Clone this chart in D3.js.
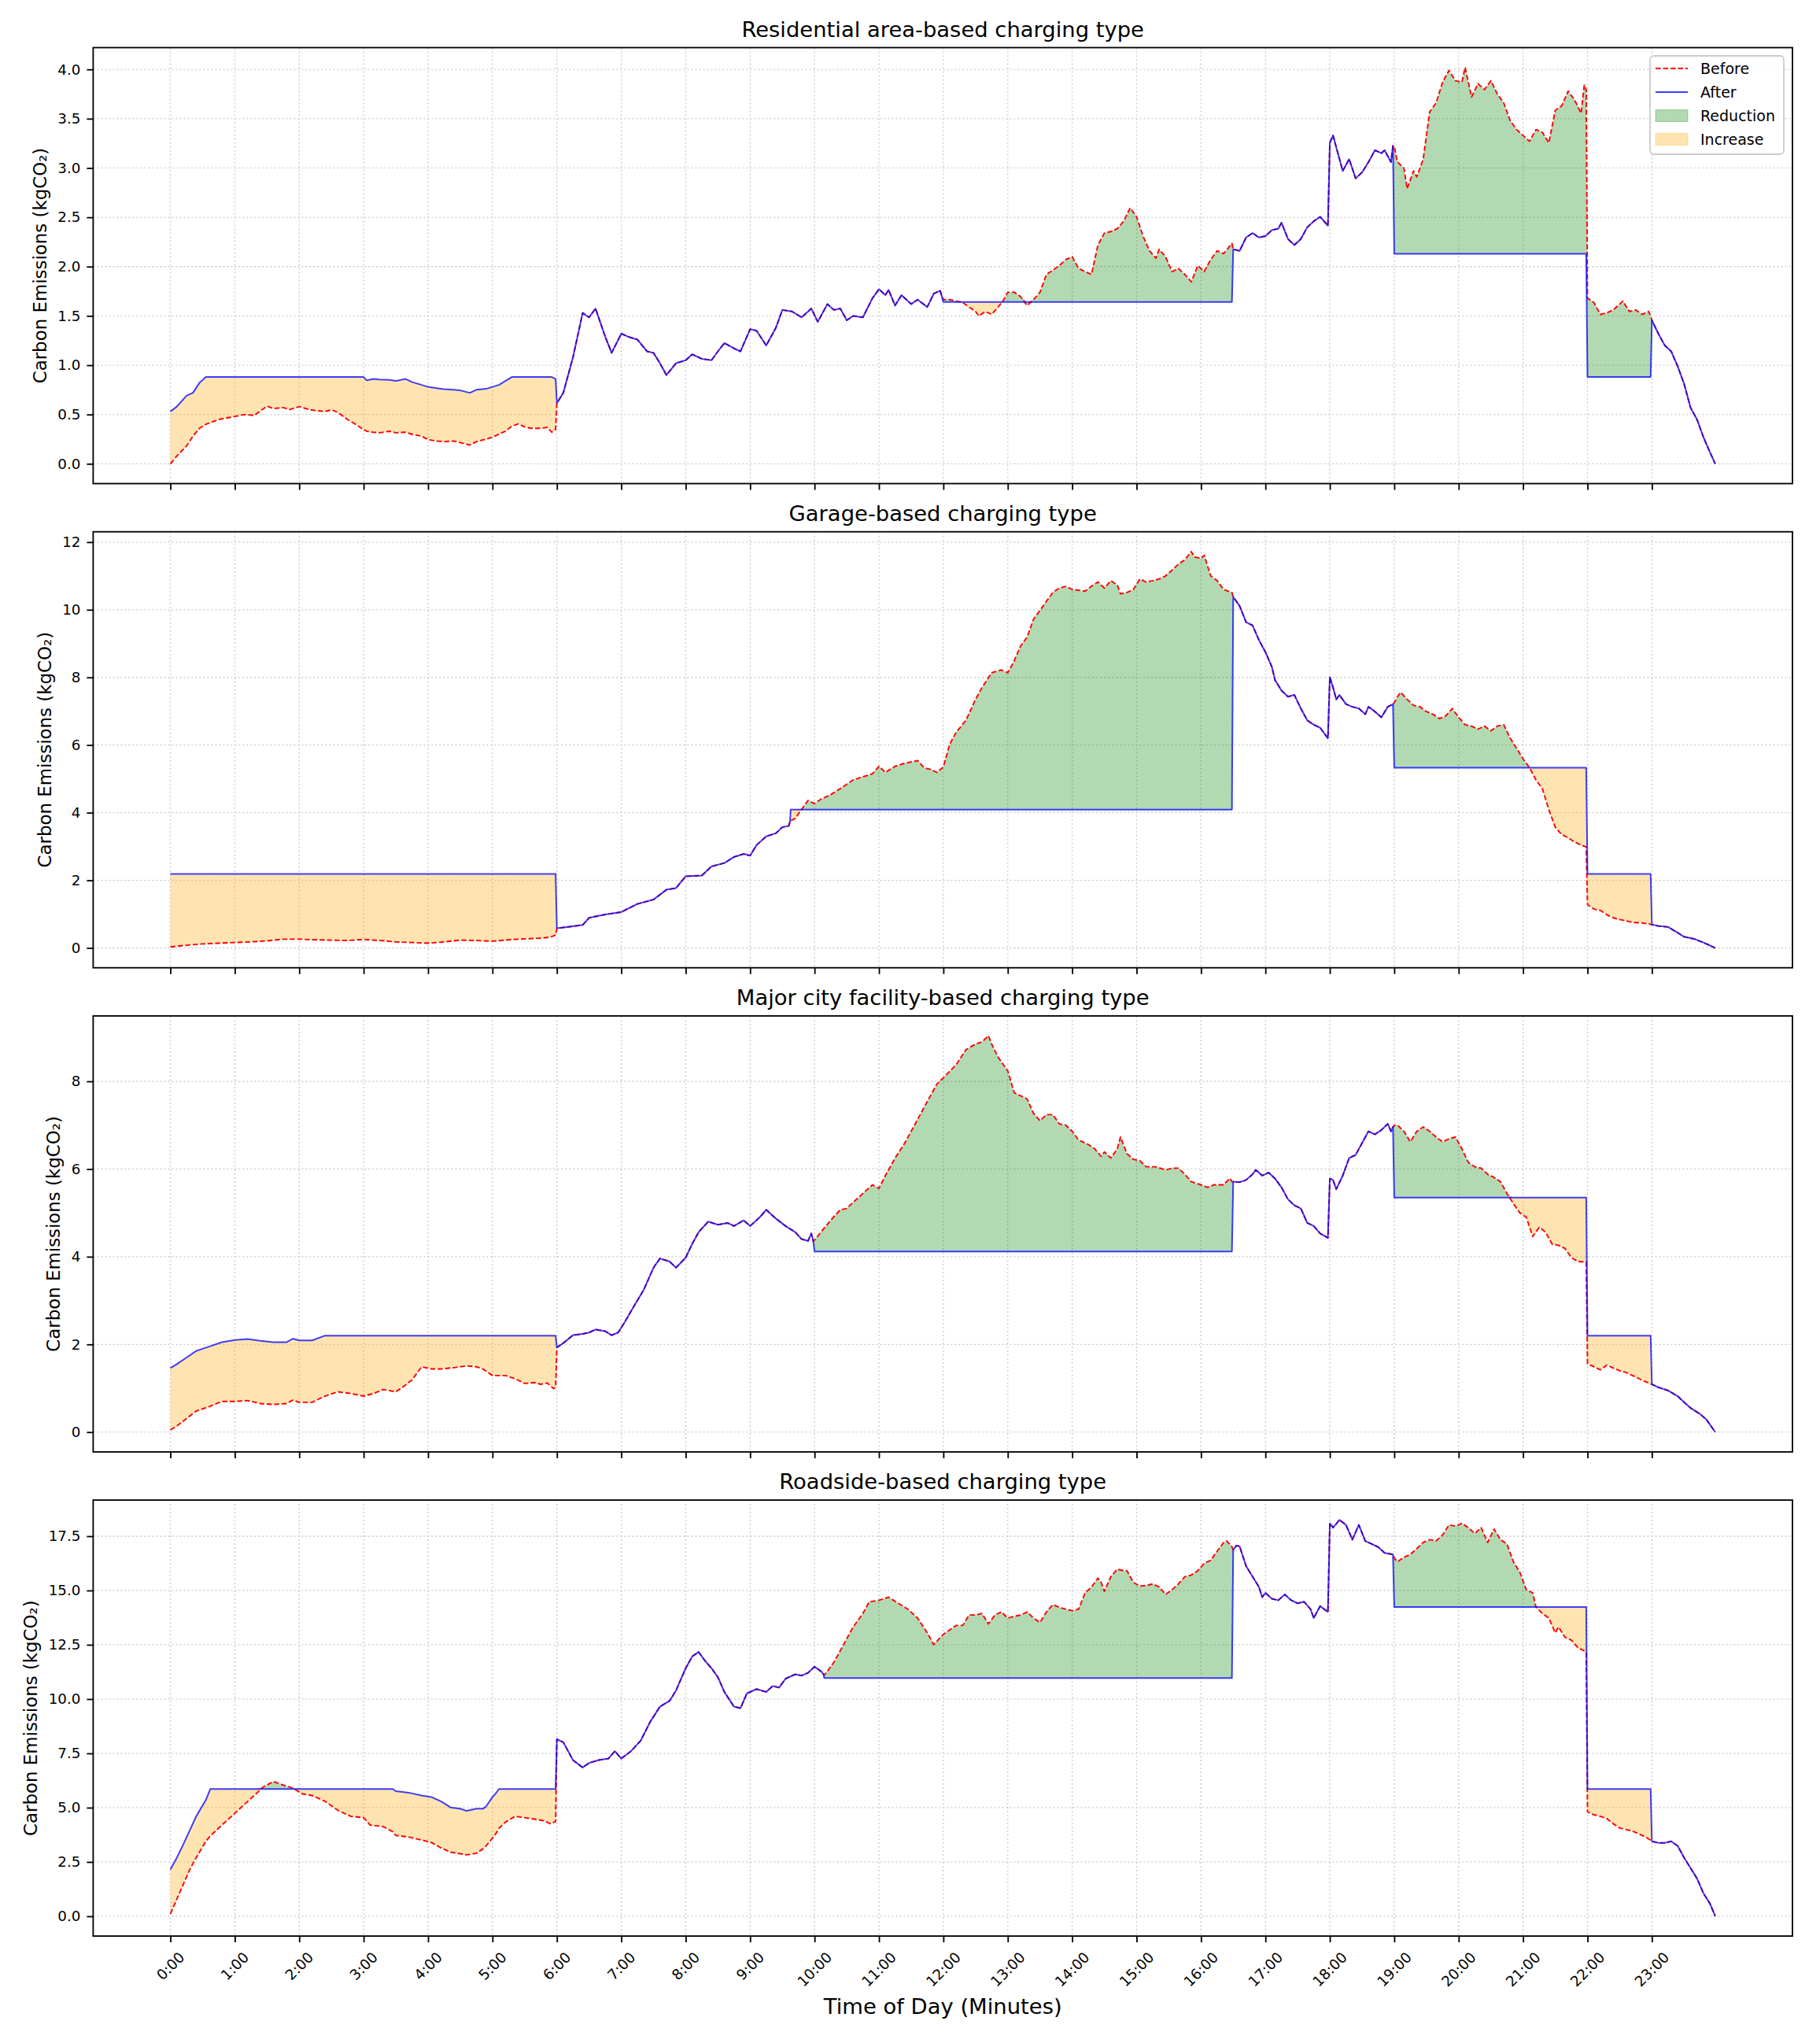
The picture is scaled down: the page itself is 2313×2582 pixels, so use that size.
<!DOCTYPE html>
<html><head><meta charset="utf-8">
<script src="https://cdn.jsdelivr.net/npm/d3@7"></script>
<style>body{margin:0;background:#fff} svg{display:block} text{font-family:"DejaVu Sans",sans-serif}</style>
</head><body><svg id="chart"></svg>
<script>
// ---------------- DATA (hour, before, after; after=null means identical to before) ----------------
const panelTitles = ["Residential area-based charging type","Garage-based charging type","Major city facility-based charging type","Roadside-based charging type"];
const xTickHours = [0,1,2,3,4,5,6,7,8,9,10,11,12,13,14,15,16,17,18,19,20,21,22,23];
const xTickLabels = ["0:00","1:00","2:00","3:00","4:00","5:00","6:00","7:00","8:00","9:00","10:00","11:00","12:00","13:00","14:00","15:00","16:00","17:00","18:00","19:00","20:00","21:00","22:00","23:00"];
const yTicksResidential = [0,0.5,1,1.5,2,2.5,3,3.5,4];
const yTicksGarage = [0,2,4,6,8,10,12];
const yTicksMajor = [0,2,4,6,8];
const yTicksRoadside = [0,2.5,5,7.5,10,12.5,15,17.5];
const yTickFormats = [".1f","d","d",".1f"];
const legendLabels = ["Before","After","Reduction","Increase"];

const residential = [
[0.00,0.00,0.53],[0.10,0.08,0.58],[0.25,0.18,0.69],[0.35,0.28,0.72],[0.45,0.36,0.82],[0.55,0.40,0.88],[0.75,0.45,0.88],[1.00,0.48,0.88],[1.15,0.50,0.88],[1.30,0.49,0.88],[1.50,0.585,0.88],[1.60,0.56,0.88],[1.75,0.57,0.88],[1.85,0.55,0.88],[2.00,0.58,0.88],[2.15,0.55,0.88],[2.25,0.54,0.88],[2.40,0.53,0.88],[2.50,0.55,0.88],[2.60,0.52,0.88],[2.75,0.45,0.88],[2.90,0.39,0.88],[3.00,0.345,0.88],[3.05,0.33,0.846],[3.15,0.32,0.86],[3.25,0.315,0.855],[3.40,0.33,0.85],[3.50,0.315,0.84],[3.65,0.32,0.86],[3.75,0.30,0.83],[3.90,0.28,0.80],[4.00,0.245,0.78],[4.15,0.23,0.765],[4.25,0.225,0.756],[4.40,0.23,0.75],[4.50,0.215,0.744],[4.65,0.19,0.72],[4.75,0.225,0.75],[4.90,0.25,0.76],[5.00,0.27,0.78],[5.10,0.30,0.80],[5.20,0.33,0.84],[5.30,0.38,0.88],[5.40,0.405,0.88],[5.50,0.375,0.88],[5.60,0.36,0.88],[5.75,0.36,0.88],[5.85,0.37,0.88],[5.92,0.32,0.88],[5.98,0.35,0.86],
[6.00,0.615,null],[6.10,0.72,null],[6.25,1.08,null],[6.40,1.53,null],[6.50,1.485,null],[6.60,1.575,null],[6.75,1.29,null],[6.85,1.125,null],[7.00,1.32,null],[7.10,1.29,null],[7.25,1.26,null],[7.40,1.14,null],[7.50,1.125,null],[7.60,1.02,null],[7.70,0.90,null],[7.85,1.02,null],[8.00,1.05,null],[8.10,1.11,null],[8.25,1.065,null],[8.40,1.05,null],[8.50,1.14,null],[8.60,1.225,null],[8.75,1.17,null],[8.85,1.14,null],[9.00,1.365,null],[9.10,1.35,null],[9.25,1.20,null],[9.40,1.38,null],[9.50,1.56,null],[9.65,1.545,null],[9.80,1.485,null],[9.95,1.575,null],[10.05,1.44,null],[10.20,1.62,null],[10.30,1.56,null],[10.40,1.575,null],[10.50,1.455,null],[10.60,1.50,null],[10.75,1.485,null],[10.90,1.68,null],[11.00,1.77,null],[11.10,1.71,null],[11.15,1.764,null],[11.25,1.605,null],[11.35,1.71,null],[11.50,1.62,null],[11.60,1.665,null],[11.75,1.59,null],[11.85,1.725,null],[11.95,1.755,null],
[12.00,1.665,1.64],[12.10,1.665,1.64],[12.20,1.65,1.64],[12.30,1.635,1.64],[12.40,1.59,1.64],[12.50,1.545,1.64],[12.55,1.50,1.64],[12.65,1.545,1.64],[12.75,1.515,1.64],[12.85,1.59,1.64],[12.92,1.645,1.64],[13.00,1.74,1.64],[13.10,1.74,1.64],[13.20,1.695,1.64],[13.30,1.605,1.64],[13.40,1.665,1.64],[13.50,1.74,1.64],[13.60,1.92,1.64],[13.70,1.965,1.64],[13.80,2.01,1.64],[13.90,2.07,1.64],[14.00,2.10,1.64],[14.10,1.98,1.64],[14.20,1.95,1.64],[14.30,1.92,1.64],[14.40,2.22,1.64],[14.50,2.34,1.64],[14.60,2.355,1.64],[14.70,2.385,1.64],[14.80,2.46,1.64],[14.90,2.595,1.64],[15.00,2.505,1.64],[15.10,2.31,1.64],[15.20,2.16,1.64],[15.30,2.085,1.64],[15.35,2.175,1.64],[15.45,2.10,1.64],[15.55,1.95,1.64],[15.65,1.98,1.64],[15.75,1.92,1.64],[15.85,1.845,1.64],[15.95,2.01,1.64],[16.05,1.95,1.64],[16.15,2.07,1.64],[16.25,2.16,1.64],[16.35,2.13,1.64],[16.48,2.235,1.64],
[16.50,2.175,null],[16.60,2.16,null],[16.70,2.295,null],[16.80,2.34,null],[16.90,2.295,null],[17.00,2.31,null],[17.10,2.37,null],[17.20,2.385,null],[17.25,2.445,null],[17.35,2.28,null],[17.45,2.22,null],[17.55,2.28,null],[17.65,2.40,null],[17.75,2.46,null],[17.85,2.505,null],[17.97,2.415,null],[18.00,3.255,null],[18.05,3.33,null],[18.10,3.21,null],[18.20,2.97,null],[18.30,3.09,null],[18.40,2.895,null],[18.50,2.955,null],[18.60,3.06,null],[18.70,3.18,null],[18.80,3.15,null],[18.85,3.18,null],[18.95,3.06,null],[18.98,3.225,null],
[19.00,3.22,2.13],[19.05,3.06,2.13],[19.15,3.00,2.13],[19.20,2.79,2.13],[19.30,2.97,2.13],[19.35,2.91,2.13],[19.45,3.09,2.13],[19.55,3.57,2.13],[19.65,3.66,2.13],[19.75,3.87,2.13],[19.85,3.99,2.13],[19.95,3.885,2.13],[20.05,3.87,2.13],[20.10,4.02,2.13],[20.20,3.72,2.13],[20.30,3.855,2.13],[20.40,3.795,2.13],[20.50,3.885,2.13],[20.60,3.75,2.13],[20.70,3.66,2.13],[20.80,3.48,2.13],[20.90,3.39,2.13],[21.00,3.33,2.13],[21.10,3.27,2.13],[21.20,3.39,2.13],[21.30,3.36,2.13],[21.40,3.255,2.13],[21.50,3.585,2.13],[21.60,3.63,2.13],[21.70,3.78,2.13],[21.80,3.69,2.13],[21.90,3.555,2.13],[21.95,3.84,2.13],[21.98,3.795,2.13],
[22.00,1.68,0.88],[22.10,1.635,0.88],[22.20,1.515,0.88],[22.30,1.53,0.88],[22.40,1.56,0.88],[22.50,1.62,0.88],[22.55,1.65,0.88],[22.65,1.545,0.88],[22.75,1.56,0.88],[22.85,1.515,0.88],[22.95,1.545,0.88],[22.98,1.50,0.88],
[23.00,1.455,null],[23.10,1.32,null],[23.20,1.20,null],[23.30,1.14,null],[23.40,0.99,null],[23.50,0.81,null],[23.60,0.57,null],[23.70,0.45,null],[23.80,0.27,null],[23.90,0.12,null],[23.983,0.0,null]
];

const garage = [
[0.00,0.03,2.19],[0.25,0.08,2.19],[0.50,0.12,2.19],[0.75,0.14,2.19],[1.00,0.16,2.19],[1.25,0.18,2.19],[1.50,0.21,2.19],[1.75,0.26,2.19],[2.00,0.26,2.19],[2.25,0.24,2.19],[2.50,0.23,2.19],[2.75,0.22,2.19],[3.00,0.25,2.19],[3.25,0.22,2.19],[3.50,0.18,2.19],[3.75,0.16,2.19],[4.00,0.14,2.19],[4.25,0.18,2.19],[4.50,0.23,2.19],[4.75,0.22,2.19],[5.00,0.20,2.19],[5.25,0.24,2.19],[5.50,0.27,2.19],[5.75,0.29,2.19],[5.90,0.32,2.19],[5.98,0.38,2.19],
[6.00,0.58,null],[6.25,0.64,null],[6.40,0.68,null],[6.50,0.89,null],[6.75,0.99,null],[7.00,1.06,null],[7.25,1.30,null],[7.50,1.43,null],[7.70,1.72,null],[7.85,1.77,null],[8.00,2.12,null],[8.25,2.14,null],[8.40,2.41,null],[8.60,2.51,null],[8.75,2.69,null],[8.90,2.78,null],[9.00,2.73,null],[9.10,3.04,null],[9.25,3.30,null],[9.40,3.39,null],[9.50,3.57,null],[9.60,3.61,null],[9.62,3.74,null],
[9.63,3.76,4.09],[9.70,3.83,4.09],[9.80,4.10,4.09],[9.90,4.36,4.09],[10.00,4.27,4.09],[10.10,4.40,4.09],[10.25,4.53,4.09],[10.40,4.71,4.09],[10.60,4.97,4.09],[10.75,5.06,4.09],[10.90,5.15,4.09],[11.00,5.37,4.09],[11.10,5.19,4.09],[11.25,5.37,4.09],[11.40,5.46,4.09],[11.60,5.54,4.09],[11.70,5.33,4.09],[11.80,5.28,4.09],[11.90,5.19,4.09],[12.00,5.35,4.09],[12.10,6.03,4.09],[12.20,6.38,4.09],[12.35,6.73,4.09],[12.50,7.35,4.09],[12.60,7.70,4.09],[12.75,8.14,4.09],[12.90,8.22,4.09],[13.00,8.14,4.09],[13.10,8.49,4.09],[13.20,8.93,4.09],[13.30,9.19,4.09],[13.40,9.72,4.09],[13.50,9.98,4.09],[13.60,10.25,4.09],[13.70,10.51,4.09],[13.80,10.64,4.09],[13.90,10.69,4.09],[14.00,10.60,4.09],[14.20,10.55,4.09],[14.30,10.70,4.09],[14.40,10.82,4.09],[14.50,10.64,4.09],[14.60,10.86,4.09],[14.70,10.73,4.09],[14.75,10.47,4.09],[14.85,10.51,4.09],[14.95,10.60,4.09],[15.05,10.91,4.09],[15.15,10.82,4.09],[15.25,10.86,4.09],[15.35,10.91,4.09],[15.45,11.00,4.09],[15.55,11.17,4.09],[15.65,11.35,4.09],[15.75,11.48,4.09],[15.85,11.72,4.09],[15.90,11.56,4.09],[16.00,11.52,4.09],[16.05,11.61,4.09],[16.15,11.00,4.09],[16.25,10.86,4.09],[16.35,10.60,4.09],[16.48,10.51,4.09],
[16.50,10.38,null],[16.60,10.11,null],[16.70,9.63,null],[16.80,9.54,null],[16.90,9.10,null],[17.00,8.75,null],[17.10,8.31,null],[17.15,7.92,null],[17.25,7.61,null],[17.35,7.43,null],[17.45,7.48,null],[17.55,7.08,null],[17.65,6.73,null],[17.75,6.60,null],[17.85,6.51,null],[17.97,6.20,null],[18.00,8.01,null],[18.05,7.70,null],[18.10,7.35,null],[18.15,7.48,null],[18.25,7.21,null],[18.35,7.13,null],[18.45,7.08,null],[18.55,6.91,null],[18.60,7.13,null],[18.70,6.99,null],[18.80,6.82,null],[18.90,7.13,null],[18.98,7.21,null],
[19.00,7.25,5.33],[19.05,7.43,5.33],[19.10,7.56,5.33],[19.20,7.35,5.33],[19.30,7.17,5.33],[19.40,7.13,5.33],[19.50,6.99,5.33],[19.60,6.91,5.33],[19.70,6.78,5.33],[19.80,6.86,5.33],[19.90,7.08,5.33],[20.00,6.82,5.33],[20.10,6.60,5.33],[20.20,6.56,5.33],[20.30,6.47,5.33],[20.40,6.56,5.33],[20.50,6.42,5.33],[20.60,6.56,5.33],[20.70,6.60,5.33],[20.80,6.20,5.33],[20.90,5.90,5.33],[21.00,5.59,5.33],[21.10,5.33,5.33],[21.20,4.97,5.33],[21.30,4.71,5.33],[21.40,4.09,5.33],[21.50,3.57,5.33],[21.60,3.35,5.33],[21.70,3.26,5.33],[21.80,3.13,5.33],[21.90,3.04,5.33],[21.98,2.99,5.33],
[22.00,1.28,2.19],[22.10,1.15,2.19],[22.20,1.11,2.19],[22.30,0.98,2.19],[22.40,0.89,2.19],[22.50,0.84,2.19],[22.60,0.80,2.19],[22.70,0.76,2.19],[22.85,0.74,2.19],[22.98,0.70,2.19],
[23.00,0.69,null],[23.10,0.65,null],[23.25,0.62,null],[23.40,0.45,null],[23.50,0.33,null],[23.65,0.27,null],[23.80,0.16,null],[23.983,0.0,null]
];

const major = [
[0.00,0.05,1.46],[0.10,0.14,1.55],[0.25,0.31,1.70],[0.40,0.48,1.85],[0.60,0.58,1.95],[0.80,0.70,2.05],[1.00,0.70,2.10],[1.20,0.72,2.12],[1.40,0.65,2.08],[1.60,0.63,2.05],[1.80,0.65,2.05],[1.90,0.73,2.13],[2.00,0.68,2.09],[2.20,0.68,2.09],[2.40,0.82,2.20],[2.60,0.92,2.20],[2.80,0.88,2.20],[3.00,0.82,2.20],[3.15,0.88,2.20],[3.30,0.97,2.20],[3.50,0.92,2.20],[3.60,1.02,2.20],[3.75,1.19,2.20],[3.90,1.49,2.20],[4.05,1.44,2.20],[4.20,1.44,2.20],[4.40,1.47,2.20],[4.60,1.51,2.20],[4.75,1.49,2.20],[4.85,1.44,2.20],[5.00,1.29,2.20],[5.20,1.29,2.20],[5.35,1.22,2.20],[5.50,1.11,2.20],[5.65,1.13,2.20],[5.75,1.09,2.20],[5.85,1.12,2.20],[5.95,0.99,2.20],[5.98,1.02,2.20],
[6.00,1.93,null],[6.10,2.03,null],[6.25,2.21,null],[6.40,2.24,null],[6.50,2.27,null],[6.60,2.34,null],[6.75,2.30,null],[6.85,2.21,null],[6.95,2.27,null],[7.05,2.50,null],[7.20,2.88,null],[7.35,3.25,null],[7.50,3.75,null],[7.60,3.96,null],[7.75,3.89,null],[7.85,3.75,null],[8.00,3.98,null],[8.10,4.29,null],[8.20,4.56,null],[8.35,4.80,null],[8.50,4.73,null],[8.65,4.77,null],[8.75,4.70,null],[8.90,4.83,null],[9.00,4.70,null],[9.15,4.90,null],[9.25,5.07,null],[9.40,4.87,null],[9.55,4.70,null],[9.70,4.56,null],[9.80,4.40,null],[9.90,4.36,null],[9.95,4.53,null],[9.98,4.36,null],
[10.00,4.38,4.12],[10.10,4.56,4.12],[10.25,4.83,4.12],[10.40,5.07,4.12],[10.50,5.10,4.12],[10.60,5.24,4.12],[10.75,5.44,4.12],[10.90,5.64,4.12],[11.00,5.56,4.12],[11.10,5.85,4.12],[11.25,6.25,4.12],[11.40,6.59,4.12],[11.60,7.13,4.12],[11.75,7.54,4.12],[11.90,7.94,4.12],[12.00,8.08,4.12],[12.20,8.38,4.12],[12.35,8.72,4.12],[12.50,8.85,4.12],[12.60,8.90,4.12],[12.70,9.04,4.12],[12.75,8.85,4.12],[12.85,8.55,4.12],[13.00,8.24,4.12],[13.10,7.74,4.12],[13.20,7.67,4.12],[13.30,7.60,4.12],[13.40,7.27,4.12],[13.50,7.10,4.12],[13.60,7.24,4.12],[13.70,7.24,4.12],[13.80,7.03,4.12],[13.90,7.00,4.12],[14.00,6.86,4.12],[14.10,6.66,4.12],[14.25,6.56,4.12],[14.35,6.46,4.12],[14.45,6.29,4.12],[14.50,6.39,4.12],[14.60,6.25,4.12],[14.70,6.46,4.12],[14.75,6.73,4.12],[14.85,6.35,4.12],[14.95,6.22,4.12],[15.05,6.19,4.12],[15.15,6.05,4.12],[15.30,6.05,4.12],[15.45,5.98,4.12],[15.55,6.02,4.12],[15.65,6.02,4.12],[15.75,5.88,4.12],[15.85,5.71,4.12],[16.00,5.64,4.12],[16.10,5.58,4.12],[16.20,5.64,4.12],[16.35,5.64,4.12],[16.45,5.79,4.12],[16.48,5.71,4.12],
[16.50,5.71,null],[16.60,5.70,null],[16.70,5.75,null],[16.80,5.88,null],[16.85,5.98,null],[16.95,5.85,null],[17.05,5.92,null],[17.15,5.78,null],[17.25,5.58,null],[17.35,5.31,null],[17.45,5.17,null],[17.55,5.10,null],[17.65,4.77,null],[17.75,4.70,null],[17.85,4.53,null],[17.97,4.43,null],[18.00,5.78,null],[18.05,5.75,null],[18.10,5.54,null],[18.20,5.85,null],[18.30,6.25,null],[18.40,6.32,null],[18.50,6.59,null],[18.60,6.86,null],[18.70,6.79,null],[18.80,6.89,null],[18.90,7.03,null],[18.95,6.86,null],[18.98,6.96,null],
[19.00,7.00,5.35],[19.05,7.00,5.35],[19.15,6.86,5.35],[19.25,6.62,5.35],[19.35,6.86,5.35],[19.45,6.96,5.35],[19.55,6.86,5.35],[19.65,6.73,5.35],[19.75,6.62,5.35],[19.85,6.69,5.35],[19.95,6.73,5.35],[20.05,6.46,5.35],[20.15,6.15,5.35],[20.25,6.05,5.35],[20.35,6.02,5.35],[20.45,5.88,5.35],[20.55,5.81,5.35],[20.65,5.71,5.35],[20.75,5.44,5.35],[20.85,5.21,5.35],[20.95,5.00,5.35],[21.05,4.90,5.35],[21.15,4.46,5.35],[21.25,4.67,5.35],[21.35,4.56,5.35],[21.45,4.29,5.35],[21.55,4.26,5.35],[21.65,4.19,5.35],[21.75,3.98,5.35],[21.85,3.89,5.35],[21.98,3.88,5.35],
[22.00,1.56,2.20],[22.10,1.49,2.20],[22.20,1.42,2.20],[22.30,1.53,2.20],[22.40,1.46,2.20],[22.50,1.40,2.20],[22.60,1.36,2.20],[22.70,1.29,2.20],[22.80,1.22,2.20],[22.90,1.15,2.20],[22.98,1.10,2.20],
[23.00,1.09,null],[23.10,1.02,null],[23.25,0.95,null],[23.40,0.82,null],[23.50,0.68,null],[23.60,0.55,null],[23.75,0.41,null],[23.85,0.28,null],[23.983,0.0,null]
];

const roadside = [
[0.00,0.11,2.15],[0.10,0.79,2.70],[0.20,1.47,3.31],[0.30,2.15,3.95],[0.40,2.70,4.60],[0.55,3.45,5.35],[0.62,3.70,5.86],[0.80,4.20,5.86],[1.00,4.74,5.86],[1.15,5.15,5.86],[1.30,5.56,5.86],[1.45,5.97,5.86],[1.60,6.20,5.86],[1.75,6.04,5.86],[1.90,5.90,5.86],[2.05,5.63,5.86],[2.20,5.56,5.86],[2.40,5.29,5.86],[2.60,4.88,5.86],[2.80,4.60,5.86],[3.00,4.54,5.86],[3.10,4.20,5.86],[3.30,4.13,5.86],[3.45,3.90,5.86],[3.50,3.72,5.76],[3.70,3.65,5.69],[3.90,3.51,5.56],[4.05,3.40,5.49],[4.20,3.15,5.29],[4.35,2.95,5.01],[4.50,2.88,4.95],[4.60,2.83,4.85],[4.75,2.90,4.95],[4.85,3.10,4.95],[4.90,3.24,5.05],[5.00,3.60,5.49],[5.05,3.79,5.65],[5.10,4.05,5.86],[5.20,4.33,5.86],[5.35,4.60,5.86],[5.50,4.54,5.86],[5.65,4.47,5.86],[5.80,4.40,5.86],[5.90,4.26,5.86],[5.98,4.36,5.86],
[6.00,8.15,null],[6.10,8.01,null],[6.25,7.19,null],[6.40,6.85,null],[6.50,7.06,null],[6.65,7.19,null],[6.80,7.26,null],[6.90,7.60,null],[7.00,7.26,null],[7.15,7.60,null],[7.30,8.08,null],[7.45,8.96,null],[7.60,9.65,null],[7.75,9.92,null],[7.85,10.40,null],[8.00,11.42,null],[8.10,11.96,null],[8.20,12.17,null],[8.30,11.76,null],[8.40,11.42,null],[8.50,11.01,null],[8.60,10.33,null],[8.75,9.65,null],[8.85,9.58,null],[8.95,10.26,null],[9.10,10.46,null],[9.25,10.33,null],[9.35,10.60,null],[9.45,10.53,null],[9.55,10.94,null],[9.70,11.14,null],[9.80,11.08,null],[9.90,11.21,null],[10.00,11.49,null],[10.10,11.28,null],[10.14,11.14,null],
[10.15,11.10,10.97],[10.20,11.28,10.97],[10.30,11.69,10.97],[10.40,12.23,10.97],[10.50,12.78,10.97],[10.60,13.32,10.97],[10.75,13.94,10.97],[10.85,14.48,10.97],[11.00,14.55,10.97],[11.15,14.69,10.97],[11.30,14.41,10.97],[11.45,14.14,10.97],[11.60,13.73,10.97],[11.75,13.05,10.97],[11.85,12.51,10.97],[12.00,12.98,10.97],[12.10,13.19,10.97],[12.20,13.39,10.97],[12.30,13.39,10.97],[12.40,13.87,10.97],[12.50,13.87,10.97],[12.60,13.94,10.97],[12.70,13.46,10.97],[12.80,13.87,10.97],[12.90,14.01,10.97],[13.00,13.73,10.97],[13.10,13.81,10.97],[13.20,13.87,10.97],[13.30,14.01,10.97],[13.40,13.73,10.97],[13.50,13.53,10.97],[13.60,14.01,10.97],[13.70,14.35,10.97],[13.80,14.22,10.97],[13.90,14.14,10.97],[14.00,14.07,10.97],[14.10,14.14,10.97],[14.20,14.89,10.97],[14.30,15.16,10.97],[14.40,15.57,10.97],[14.45,15.37,10.97],[14.50,14.96,10.97],[14.60,15.64,10.97],[14.70,15.98,10.97],[14.80,15.91,10.97],[14.85,15.91,10.97],[14.95,15.37,10.97],[15.05,15.20,10.97],[15.15,15.23,10.97],[15.25,15.30,10.97],[15.35,15.16,10.97],[15.45,14.82,10.97],[15.55,15.03,10.97],[15.65,15.30,10.97],[15.75,15.64,10.97],[15.85,15.71,10.97],[15.95,15.91,10.97],[16.05,16.25,10.97],[16.15,16.39,10.97],[16.25,16.80,10.97],[16.35,17.21,10.97],[16.40,17.28,10.97],[16.48,17.01,10.97],
[16.50,16.87,null],[16.55,17.07,null],[16.60,17.03,null],[16.70,16.12,null],[16.80,15.64,null],[16.90,15.16,null],[16.95,14.69,null],[17.00,14.89,null],[17.10,14.62,null],[17.20,14.55,null],[17.30,14.82,null],[17.40,14.55,null],[17.50,14.41,null],[17.60,14.48,null],[17.70,14.14,null],[17.75,13.73,null],[17.85,14.28,null],[17.97,14.01,null],[18.00,18.09,null],[18.05,17.89,null],[18.15,18.25,null],[18.25,18.02,null],[18.35,17.34,null],[18.45,18.02,null],[18.55,17.28,null],[18.65,17.14,null],[18.75,17.00,null],[18.85,16.73,null],[18.98,16.66,null],
[19.00,16.50,14.24],[19.05,16.32,14.24],[19.15,16.53,14.24],[19.25,16.66,14.24],[19.35,16.93,14.24],[19.45,17.21,14.24],[19.55,17.34,14.24],[19.65,17.28,14.24],[19.75,17.55,14.24],[19.85,18.02,14.24],[19.95,17.96,14.24],[20.05,18.09,14.24],[20.15,17.89,14.24],[20.25,17.62,14.24],[20.35,17.89,14.24],[20.45,17.21,14.24],[20.55,17.83,14.24],[20.65,17.34,14.24],[20.75,17.14,14.24],[20.85,16.32,14.24],[20.95,15.84,14.24],[21.05,15.03,14.24],[21.15,14.89,14.24],[21.20,14.24,14.24],[21.30,13.94,14.24],[21.40,13.73,14.24],[21.50,13.05,14.24],[21.55,13.32,14.24],[21.65,12.85,14.24],[21.75,12.71,14.24],[21.85,12.37,14.24],[21.98,12.17,14.24],
[22.00,4.81,5.86],[22.10,4.67,5.86],[22.20,4.60,5.86],[22.30,4.50,5.86],[22.40,4.26,5.86],[22.50,4.06,5.86],[22.60,3.99,5.86],[22.70,3.92,5.86],[22.80,3.79,5.86],[22.90,3.65,5.86],[22.98,3.50,5.86],
[23.00,3.45,null],[23.10,3.38,null],[23.20,3.38,null],[23.30,3.45,null],[23.40,3.24,null],[23.50,2.70,null],[23.60,2.22,null],[23.70,1.74,null],[23.80,1.06,null],[23.90,0.59,null],[23.983,0.0,null]
];

// ---------------- RENDER ----------------
const panels = [residential, garage, major, roadside];
const yTicksAll = [yTicksResidential, yTicksGarage, yTicksMajor, yTicksRoadside];

const W = 2313, H = 2582;
const L = 118.4, R = 2278, T0 = 60.5, PH = 554, STEP = 615.2;
const FS_TICK = 18.3, FS_YLABEL = 22.9, FS_TITLE = 27.4, FS_XLABEL = 27.4, FS_LEG = 19;
const TICK_LEN = 8, TICK_PAD = 8, SPINE_W = 1.83;
const COL_BEFORE = "#ff0000", COL_AFTER = "#0000ff";
const FILL_RED = "green", FILL_INC = "orange", FILL_OP = 0.3;

const svg = d3.select("#chart").attr("width", W).attr("height", H);
svg.append("rect").attr("width", W).attr("height", H).attr("fill", "#fff");
const defs = svg.append("defs");

panels.forEach((raw, i) => {
  const rows = raw.map(r => ({ t: r[0], b: r[1], a: r[2] == null ? r[1] : r[2] }));
  const top = T0 + i * STEP, bottom = top + PH;

  const tExt = d3.extent(rows, d => d.t);
  const tPad = 0.05 * (tExt[1] - tExt[0]);
  const x = d3.scaleLinear().domain([tExt[0] - tPad, tExt[1] + tPad]).range([L, R]);
  const yLo = d3.min(rows, d => Math.min(d.a, d.b));
  const yHi = d3.max(rows, d => Math.max(d.a, d.b));
  const yPad = 0.05 * (yHi - yLo);
  const y = d3.scaleLinear().domain([yLo - yPad, yHi + yPad]).range([bottom, top]);

  const cid = "clip" + i;
  defs.append("clipPath").attr("id", cid).append("rect")
    .attr("x", L).attr("y", top).attr("width", R - L).attr("height", PH);

  const g = svg.append("g");

  // grid
  const grid = g.append("g").attr("clip-path", `url(#${cid})`)
    .attr("stroke", "#b8b8b8").attr("stroke-width", 1.3).attr("stroke-dasharray", "2,3").attr("opacity", 0.75);
  grid.selectAll("line.v").data(xTickHours).join("line")
    .attr("x1", d => x(d)).attr("x2", d => x(d)).attr("y1", top).attr("y2", bottom);
  grid.selectAll("line.h").data(yTicksAll[i]).join("line")
    .attr("x1", L).attr("x2", R).attr("y1", d => y(d)).attr("y2", d => y(d));

  const plot = g.append("g").attr("clip-path", `url(#${cid})`);
  // Reduction (before > after)
  plot.append("path").datum(rows)
    .attr("d", d3.area().x(d => x(d.t)).y0(d => y(d.a)).y1(d => y(Math.max(d.a, d.b))))
    .attr("fill", FILL_RED).attr("fill-opacity", FILL_OP);
  // Increase (after > before)
  plot.append("path").datum(rows)
    .attr("d", d3.area().x(d => x(d.t)).y0(d => y(d.b)).y1(d => y(Math.max(d.a, d.b))))
    .attr("fill", FILL_INC).attr("fill-opacity", FILL_OP);
  // Before line
  plot.append("path").datum(rows)
    .attr("d", d3.line().x(d => x(d.t)).y(d => y(d.b)))
    .attr("fill", "none").attr("stroke", COL_BEFORE).attr("stroke-width", 1.9)
    .attr("stroke-dasharray", "6.5,3").attr("stroke-linejoin", "round");
  // After line
  plot.append("path").datum(rows)
    .attr("d", d3.line().x(d => x(d.t)).y(d => y(d.a)))
    .attr("fill", "none").attr("stroke", COL_AFTER).attr("stroke-width", 2)
    .attr("stroke-opacity", 0.75).attr("stroke-linejoin", "round");

  // x axis ticks
  const xa = g.append("g").attr("transform", `translate(0,${bottom})`)
    .call(d3.axisBottom(x).tickValues(xTickHours).tickSize(TICK_LEN).tickPadding(TICK_PAD).tickFormat(""));
  xa.select(".domain").remove();
  xa.attr("color", "#000");
  xa.selectAll("line").attr("stroke-width", SPINE_W);

  // y axis
  const ya = g.append("g").attr("transform", `translate(${L},0)`)
    .call(d3.axisLeft(y).tickValues(yTicksAll[i]).tickSize(TICK_LEN).tickPadding(TICK_PAD).tickFormat(d3.format(yTickFormats[i])));
  ya.select(".domain").remove();
  ya.attr("color", "#000").attr("font-size", FS_TICK).attr("font-family", '"DejaVu Sans", sans-serif');
  ya.selectAll("line").attr("stroke-width", SPINE_W);
  ya.selectAll("text").attr("fill", "#000");

  // spines
  g.append("rect").attr("x", L).attr("y", top).attr("width", R - L).attr("height", PH)
    .attr("fill", "none").attr("stroke", "#000").attr("stroke-width", SPINE_W);

  // title
  g.append("text").attr("x", (L + R) / 2).attr("y", top - 13.7)
    .attr("text-anchor", "middle").attr("font-size", FS_TITLE).attr("fill", "#000")
    .text(panelTitles[i]);

  // y label
  let maxW = 0;
  ya.selectAll("text").each(function () { maxW = Math.max(maxW, this.getComputedTextLength()); });
  const labRight = L - TICK_LEN - TICK_PAD - maxW - 9.1;
  const labX = labRight - 0.236 * FS_YLABEL;
  g.append("text").attr("transform", `translate(${labX},${(top + bottom) / 2}) rotate(-90)`)
    .attr("text-anchor", "middle").attr("font-size", FS_YLABEL).attr("fill", "#000")
    .text("Carbon Emissions (kgCO₂)");

  // x tick labels and x label on last panel
  if (i === panels.length - 1) {
    const lg = g.append("g").attr("font-size", FS_TICK).attr("fill", "#000");
    let maxBox = 0;
    xTickHours.forEach((h, k) => {
      const t = lg.append("text").attr("text-anchor", "middle").attr("dominant-baseline", "central").text(xTickLabels[k]);
      const w = t.node().getComputedTextLength();
      const hh = 1.16 * FS_TICK;
      const box = (w + hh) / Math.SQRT2;
      maxBox = Math.max(maxBox, box);
      const cy = bottom + TICK_LEN + TICK_PAD + box / 2;
      t.attr("transform", `translate(${x(h)},${cy}) rotate(-45)`);
    });
    const xlTop = bottom + TICK_LEN + TICK_PAD + maxBox + 9.1;
    g.append("text").attr("x", (L + R) / 2).attr("y", xlTop + 0.78 * FS_XLABEL)
      .attr("text-anchor", "middle").attr("font-size", FS_XLABEL).attr("fill", "#000")
      .text("Time of Day (Minutes)");
  }

  // legend on first panel
  if (i === 0) {
    const lx = 2097, ly = top + 10.5, lw = 170, lh = 125;
    const leg = g.append("g");
    leg.append("rect").attr("x", lx).attr("y", ly).attr("width", lw).attr("height", lh)
      .attr("rx", 5).attr("fill", "#fff").attr("fill-opacity", 0.8)
      .attr("stroke", "#cccccc").attr("stroke-width", 1.8);
    const hx0 = lx + 7, hx1 = lx + 48, tx = lx + 64;
    legendLabels.forEach((lab, k) => {
      const cy = ly + 16 + k * 30;
      if (k === 0) {
        leg.append("line").attr("x1", hx0).attr("x2", hx1).attr("y1", cy).attr("y2", cy)
          .attr("stroke", COL_BEFORE).attr("stroke-width", 1.9).attr("stroke-dasharray", "6.5,3");
      } else if (k === 1) {
        leg.append("line").attr("x1", hx0).attr("x2", hx1).attr("y1", cy).attr("y2", cy)
          .attr("stroke", COL_AFTER).attr("stroke-width", 2).attr("stroke-opacity", 0.75);
      } else {
        leg.append("rect").attr("x", hx0).attr("y", cy - 7.5).attr("width", hx1 - hx0).attr("height", 15)
          .attr("fill", k === 2 ? FILL_RED : FILL_INC).attr("fill-opacity", FILL_OP)
          .attr("stroke", k === 2 ? FILL_RED : FILL_INC).attr("stroke-opacity", FILL_OP);
      }
      leg.append("text").attr("x", tx).attr("y", cy).attr("dominant-baseline", "central")
        .attr("font-size", FS_LEG).attr("fill", "#000").text(lab);
    });
  }
});
</script>
</body></html>
